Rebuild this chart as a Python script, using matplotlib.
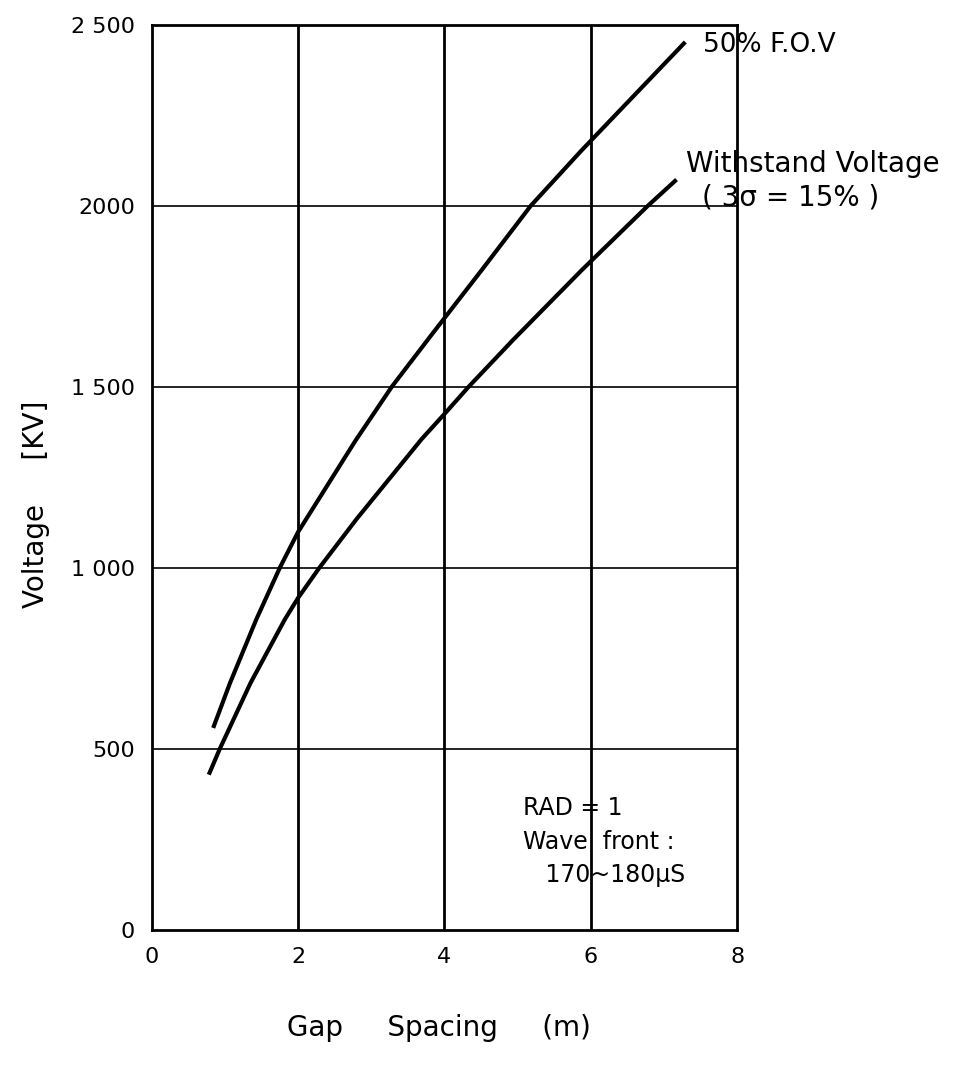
import numpy as np
import matplotlib
matplotlib.use("Agg")
import matplotlib.pyplot as plt

# curves (gap in m, voltage in kV)
fov_gap = [0.84, 1.07, 1.43, 1.75, 2.0, 2.78, 3.28, 3.81, 4.5, 5.18, 5.87, 7.29]
fov_kv = [558, 682, 858, 1000, 1099, 1350, 1500, 1640, 1820, 2000, 2152, 2452]

wst_gap = [0.78, 0.93, 1.35, 1.82, 2.0, 2.29, 2.8, 3.69, 4.0, 4.33, 4.94, 5.88, 6.78, 7.17]
wst_kv = [429, 500, 682, 858, 917, 1000, 1135, 1356, 1425, 1500, 1630, 1823, 2000, 2072]

x_ticks = [0, 2, 4, 6, 8]
y_ticks = [0, 500, 1000, 1500, 2000, 2500]
y_labels = ["0", "500", "1 000", "1 500", "2000", "2 500"]

plt.rcParams['font.family'] = ['DejaVu Sans']

fig = plt.figure(figsize=(9.6, 10.69), dpi=100)
ax = fig.add_axes([0.158, 0.130, 0.610, 0.847])

ax.plot(fov_gap, fov_kv, color="black", lw=3.0, solid_capstyle="butt",
        solid_joinstyle="round", zorder=3)
ax.plot(wst_gap, wst_kv, color="black", lw=3.0, solid_capstyle="butt",
        solid_joinstyle="round", zorder=3)

ax.set_xlim(0, 8)
ax.set_ylim(0, 2500)
ax.set_xticks(x_ticks)
ax.set_yticks(y_ticks)
ax.set_yticklabels(y_labels)
ax.tick_params(length=0, labelsize=16, pad=12)

for x in x_ticks[1:-1]:
    ax.axvline(x, color="black", lw=2.0, zorder=1)
for y in y_ticks[1:-1]:
    ax.axhline(y, color="black", lw=1.2, zorder=1)
for s in ax.spines.values():
    s.set_linewidth(2.0)

ax.text(0.49, -0.108, "Gap     Spacing     (m)", transform=ax.transAxes,
        fontsize=20, ha="center", va="center")
ax.text(-0.197, 0.47, "Voltage     [KV]", transform=ax.transAxes,
        fontsize=20, ha="center", va="center", rotation=90)

ax.text(7.53, 2444, "50% F.O.V", fontsize=19, va="center", clip_on=False)
ax.text(7.30, 2114, "Withstand Voltage", fontsize=20, va="center", clip_on=False)
ax.text(7.52, 2022, "( 3σ = 15% )", fontsize=20, va="center", clip_on=False)

ax.text(5.07, 370, "RAD = 1\nWave  front :\n   170~180μS", fontsize=17,
        va="top", ha="left", linespacing=1.5)

fig.savefig("out.png", dpi=100)
